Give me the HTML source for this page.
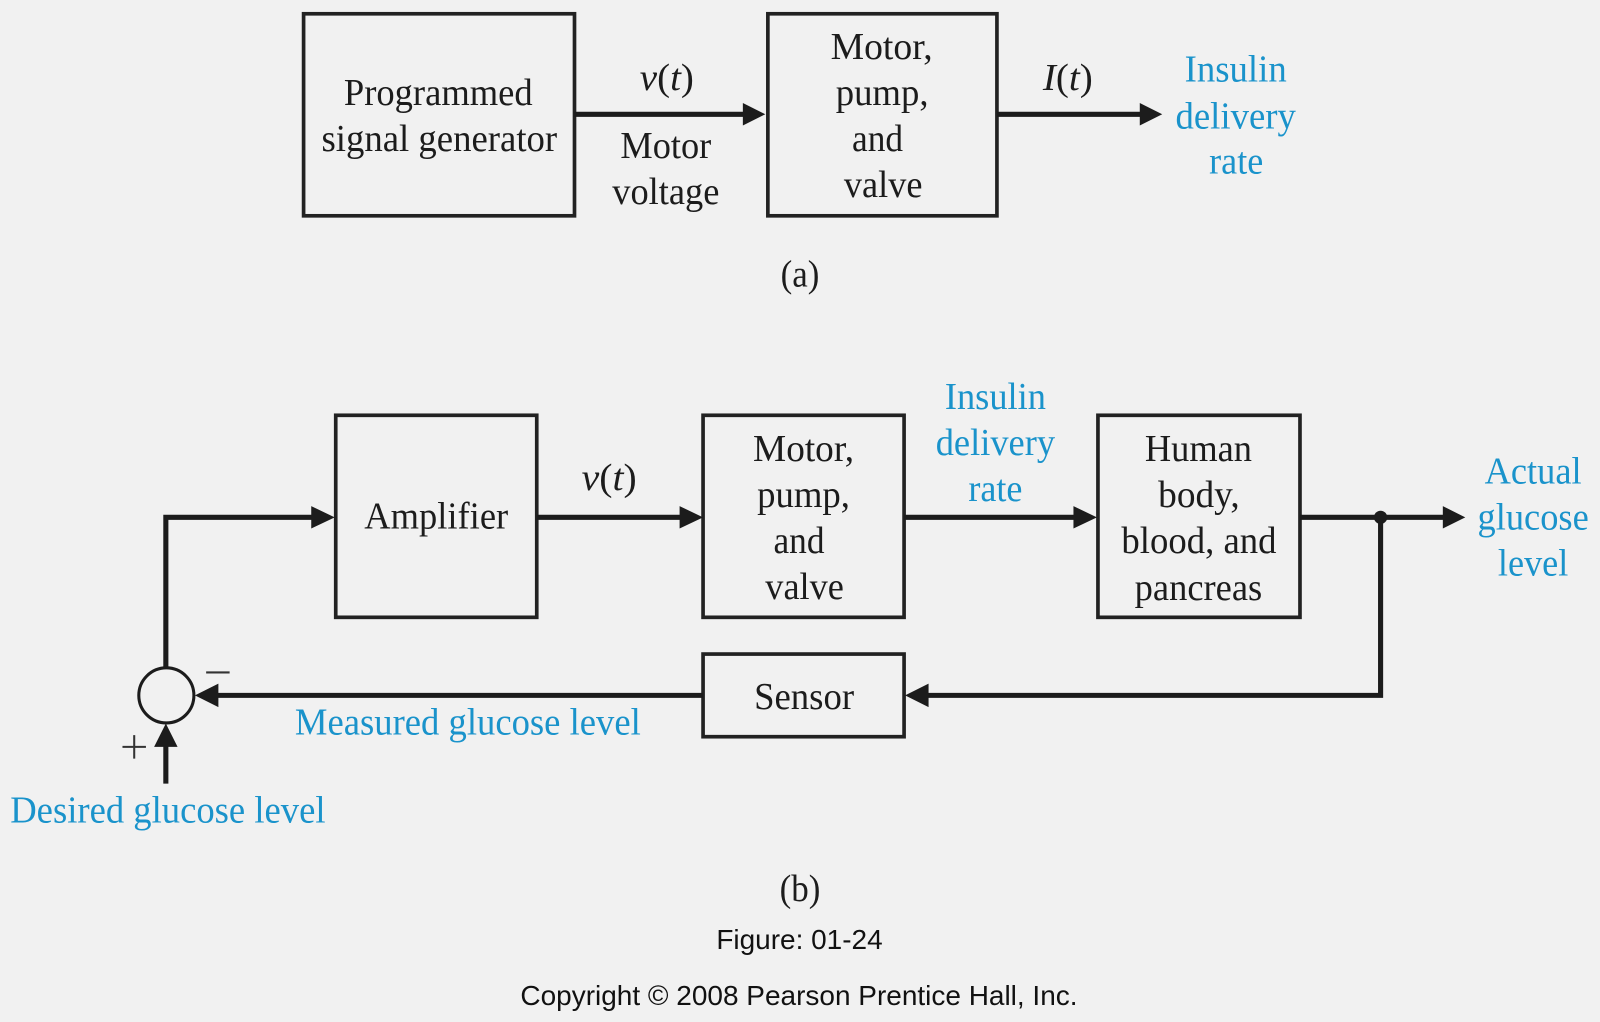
<!DOCTYPE html>
<html><head><meta charset="utf-8"><style>
html,body{margin:0;padding:0;background:#f1f1f1}
svg{display:block}
text{font-family:"Liberation Serif",serif;font-size:37px;fill:#1c1c1c}
.b{fill:#1a93cb}
.s{font-family:"Liberation Sans",sans-serif;font-size:27px;fill:#111}
.box{fill:none;stroke:#222;stroke-width:3.6}
.ln{fill:none;stroke:#1c1c1c;stroke-width:5}
.ah{fill:#1c1c1c}
</style></head><body>
<svg width="1600" height="1022" viewBox="0 0 1568 1001.6" xmlns="http://www.w3.org/2000/svg">
<rect width="1568" height="1002" fill="#f1f1f1"/>
<!-- (a) -->
<rect class="box" x="297.500" y="13.500" width="265.500" height="198"/>
<rect class="box" x="752.500" y="13.500" width="224.500" height="198"/>
<path class="ln" d="M563 112H732M977 112H1120"/>
<path class="ah" d="M728 101L750 112L728 123ZM1117 101L1139 112L1117 123Z"/>
<text x="337" y="103" textLength="185" lengthAdjust="spacingAndGlyphs">Programmed</text>
<text x="315" y="148" textLength="231" lengthAdjust="spacingAndGlyphs">signal generator</text>
<text x="627" y="88" textLength="53" lengthAdjust="spacingAndGlyphs"><tspan font-style="italic">v</tspan>(<tspan font-style="italic">t</tspan>)</text>
<text x="608" y="155" textLength="89" lengthAdjust="spacingAndGlyphs">Motor</text>
<text x="600" y="200" textLength="105" lengthAdjust="spacingAndGlyphs">voltage</text>
<text x="814" y="58" textLength="100" lengthAdjust="spacingAndGlyphs">Motor,</text>
<text x="819" y="103" textLength="91" lengthAdjust="spacingAndGlyphs">pump,</text>
<text x="835" y="148" textLength="50" lengthAdjust="spacingAndGlyphs">and</text>
<text x="827" y="193" textLength="77" lengthAdjust="spacingAndGlyphs">valve</text>
<text x="1022" y="88" textLength="49" lengthAdjust="spacingAndGlyphs"><tspan font-style="italic">I</tspan>(<tspan font-style="italic">t</tspan>)</text>
<text class="b" x="1161" y="80" textLength="100" lengthAdjust="spacingAndGlyphs">Insulin</text>
<text class="b" x="1152" y="126" textLength="118" lengthAdjust="spacingAndGlyphs">delivery</text>
<text class="b" x="1185" y="170" textLength="53" lengthAdjust="spacingAndGlyphs">rate</text>
<text x="765" y="281" textLength="38" lengthAdjust="spacingAndGlyphs">(a)</text>
<!-- (b) -->
<rect class="box" x="329" y="407" width="197" height="198"/>
<rect class="box" x="689" y="407" width="197" height="198"/>
<rect class="box" x="1076" y="407" width="198" height="198"/>
<rect class="box" x="689" y="641" width="197" height="81"/>
<path class="ln" d="M162.500 655V507H310M526 507H670M886 507H1056M1274 507H1418M1353 507V681.500H908M689 681.500H212M162.500 768V730"/>
<path class="ah" d="M305 496L328 507L305 518ZM666 496L689 507L666 518ZM1052 496L1075 507L1052 518ZM1414 496L1436 507L1414 518ZM910 670L887 681.500L910 693ZM214 670L191 681.500L214 693ZM151 732L162.500 709L174 732Z"/>
<circle class="ah" cx="1353" cy="507" r="6.500"/>
<circle cx="163" cy="681.500" r="27" fill="none" stroke="#1c1c1c" stroke-width="3"/>
<text x="357" y="518" textLength="141" lengthAdjust="spacingAndGlyphs">Amplifier</text>
<text x="570" y="480" textLength="54" lengthAdjust="spacingAndGlyphs"><tspan font-style="italic">v</tspan>(<tspan font-style="italic">t</tspan>)</text>
<text x="738" y="452" textLength="99" lengthAdjust="spacingAndGlyphs">Motor,</text>
<text x="742" y="497" textLength="91" lengthAdjust="spacingAndGlyphs">pump,</text>
<text x="758" y="542" textLength="50" lengthAdjust="spacingAndGlyphs">and</text>
<text x="750" y="587" textLength="77" lengthAdjust="spacingAndGlyphs">valve</text>
<text class="b" x="926" y="401" textLength="99" lengthAdjust="spacingAndGlyphs">Insulin</text>
<text class="b" x="917" y="446" textLength="117" lengthAdjust="spacingAndGlyphs">delivery</text>
<text class="b" x="949" y="491" textLength="53" lengthAdjust="spacingAndGlyphs">rate</text>
<text x="1122" y="452" textLength="105" lengthAdjust="spacingAndGlyphs">Human</text>
<text x="1135" y="497" textLength="80" lengthAdjust="spacingAndGlyphs">body,</text>
<text x="1099" y="542" textLength="152" lengthAdjust="spacingAndGlyphs">blood, and</text>
<text x="1112" y="588" textLength="125" lengthAdjust="spacingAndGlyphs">pancreas</text>
<text class="b" x="1455" y="474" textLength="95" lengthAdjust="spacingAndGlyphs">Actual</text>
<text class="b" x="1448" y="519" textLength="109" lengthAdjust="spacingAndGlyphs">glucose</text>
<text class="b" x="1468" y="564" textLength="69" lengthAdjust="spacingAndGlyphs">level</text>
<text x="739" y="695" textLength="98" lengthAdjust="spacingAndGlyphs">Sensor</text>
<text class="b" x="289" y="720" textLength="339" lengthAdjust="spacingAndGlyphs">Measured glucose level</text>
<text class="b" x="10" y="806" textLength="309" lengthAdjust="spacingAndGlyphs">Desired glucose level</text>
<path d="M120 732H143M131.500 720.500V743.500M202 659H225" fill="none" stroke="#333" stroke-width="2"/>
<text x="764" y="883" textLength="40" lengthAdjust="spacingAndGlyphs">(b)</text>
<text class="s" x="702" y="930" textLength="163" lengthAdjust="spacingAndGlyphs">Figure: 01-24</text>
<text class="s" x="510" y="985" textLength="546" lengthAdjust="spacingAndGlyphs">Copyright © 2008 Pearson Prentice Hall, Inc.</text>
</svg>
</body></html>
